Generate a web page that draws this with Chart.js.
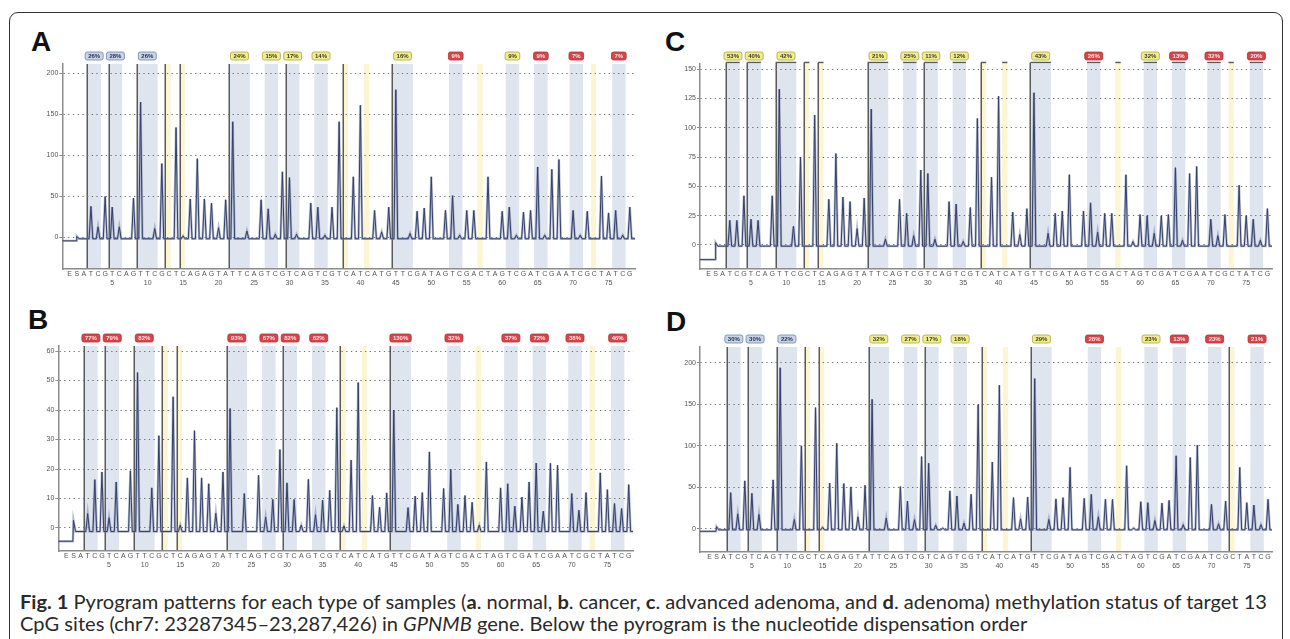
<!DOCTYPE html>
<html>
<head>
<meta charset="utf-8">
<script src="https://cdn.jsdelivr.net/npm/chart.js@4.4.0/dist/chart.umd.min.js"></script>
<style>
  html, body { margin: 0; padding: 0; background: #fff; }
  body { width: 1290px; height: 639px; position: relative; overflow: hidden; font-family: "Liberation Sans", Arial, sans-serif; }
  .frame { position: absolute; left: 9px; top: 12px; width: 1274px; height: 700px; border: 1.5px solid #333; border-radius: 9px; box-sizing: border-box; }
  canvas { position: absolute; }
  .tag { position: absolute; font-weight: bold; font-size: 28px; line-height: 1; color: #111; }
  .cap { position: absolute; left: 20px; white-space: nowrap; font-size: 18.5px; line-height: 22px; color: #2a2a2a;
         transform-origin: 0 0; font-family: Lato, "Open Sans", "Liberation Sans", sans-serif; }
</style>
</head>
<body>
<div class="frame"></div>
<div class="tag" style="left:31px;top:28px">A</div>
<div class="tag" style="left:28px;top:306px">B</div>
<div class="tag" style="left:665px;top:28px">C</div>
<div class="tag" style="left:666px;top:308px">D</div>
<canvas id="chartA" width="620" height="250" style="left:20px;top:44px"></canvas>
<canvas id="chartB" width="622" height="250" style="left:16px;top:326px"></canvas>
<canvas id="chartC" width="622" height="250" style="left:655px;top:44px"></canvas>
<canvas id="chartD" width="622" height="250" style="left:655px;top:327px"></canvas>
<div class="cap" id="cap1" style="top:591px"><b>Fig. 1</b> Pyrogram patterns for each type of samples (<b>a</b>. normal, <b>b</b>. cancer, <b>c</b>. advanced adenoma, and <b>d</b>. adenoma) methylation status of target 13</div>
<div class="cap" id="cap2" style="top:613px">CpG sites (chr7: 23287345–23,287,426) in <i>GPNMB</i> gene. Below the pyrogram is the nucleotide dispensation order</div>
<script>
// Nucleotide dispensation order (E = enzyme at -1, S = substrate at 0, then 1..78)
const dispensation = ['E','S',
  'A','T','C','G','T','C','A','G','T','T','C','G','C','T','C','A','G','A','G','T',
  'A','T','T','C','A','G','T','C','G','T','C','A','G','T','C','G','T','C','A','T',
  'C','A','T','G','T','T','C','G','A','T','A','G','T','C','G','A','C','T','A','G',
  'T','C','G','A','T','C','G','A','A','T','C','G','C','T','A','T','C','G'];

// CpG sites (first T .. last C of each variable position) and bisulfite controls
const siteStart = [2, 5, 9, 22, 27, 30, 34, 45, 53, 61, 65, 70, 76];
const siteEnd   = [3, 6, 11, 24, 28, 31, 35, 47, 54, 62, 66, 71, 77];
const controls  = [13, 15, 38, 41, 57, 73];
const markers   = [2, 5, 9, 13, 15, 22, 30, 38, 45];
const markersD  = [2, 5, 9, 13, 15, 22, 30, 38, 45, 73];

// peak heights at dispensation 1..78
const peaksA = [0,38,13,50,37,13,0,48,165,0, 11,90,0,134,2,47,96,47,42,12,
  46,141,0,8,0,46,35,4,80,73, 4,0,42,37,3,37,141,0,74,161,
  0,33,7,37,180,0,5,32,36,74, 0,33,51,3,33,33,0,74,0,32,
  37,3,31,33,86,3,83,95,0,33, 3,32,0,75,30,33,3,37];
const peaksB = [0,4.9,16.4,19,3.5,15.6,0,19.4,52.7,0, 13.6,31.3,0,44.5,1,17,33,17,15,5,
  19,40.5,0,11.7,0,17.9,3.7,9.7,26.6,15.3, 9.7,1,16.5,4.5,9.4,12.8,40.8,0.7,23,49.3,
  0,11,7,11.9,40,0,6.9,10.8,12,25.8, 0,13.4,20,8,11,8.7,1,22.4,0,13.6,
  15,7.4,10.5,15.6,22,5.7,21.9,21.3,0,11.7, 6,12,0,18.7,13,8.3,6.6,14.7];
const peaksC = [0,21,21,42,22,21,0,42,133,0, 16,75,0,111,0,39,78,41,37,14,
  40,116,0,5,0,39,27,8,64,61, 5,0,37,35,3,32,108,0,58,127,
  0,28,9,31,130,0,10,27,29,60, 0,29,36,11,27,27,0,60,3,26,
  25,10,25,26,66,4,61,67,0,22, 8,26,0,51,25,22,4,31];
const peaksD = [0,43.6,18,57.8,42.8,17.4,0,59,194,0, 11.3,100,0,146,2,55,103,54.5,50.5,14.5,
  52.5,156,0,13,0,51,33.5,11,87,79, 4.4,1,45.7,39.6,7,41.6,149.5,0,80.4,173,
  0,37.6,12,38.4,181,0,11.3,36,37.6,74, 0,36.8,41.6,14.5,35.6,35.6,0,76,1,32.7,
  31.5,10,31,34.3,88,5,86,101,0,29.5, 6,33.5,0,74,31.5,28.7,5,35.6];

// methylation labels over each CpG site and their quality flags (b = pass, y = check, r = fail)
const labelsA = ['26%','28%','26%','24%','15%','17%','14%','16%','9%','9%','9%','7%','7%'];
const kindsA  = ['b','b','b','y','y','y','y','y','r','y','r','r','r'];
const labelsB = ['77%','79%','82%','93%','67%','82%','62%','130%','32%','37%','72%','38%','46%'];
const kindsB  = ['r','r','r','r','r','r','r','r','r','r','r','r','r'];
const labelsC = ['53%','40%','42%','21%','25%','11%','12%','43%','26%','32%','13%','32%','20%'];
const kindsC  = ['y','y','y','y','y','y','y','y','r','y','r','r','r'];
const labelsD = ['30%','30%','22%','32%','27%','17%','18%','29%','28%','23%','13%','23%','21%'];
const kindsD  = ['b','b','b','y','y','y','y','y','r','y','r','r','r'];

const yTicksA = [0, 50, 100, 150, 200];
const yTicksB = [0, 10, 20, 30, 40, 50, 60];
const yTicksC = [0, 25, 50, 75, 100, 125, 150];
const yTicksD = [0, 50, 100, 150, 200];

const boxStyle = {
  b: { fill: '#c8d4e9', stroke: '#6e85ad', text: '#27324f' },
  y: { fill: '#f1ed8e', stroke: '#aba444', text: '#403b14' },
  r: { fill: '#d5464b', stroke: '#b23036', text: '#fde3e3' }
};

function trace(peaks, base, pre, bump) {
  const pts = [{ x: -3, y: pre }, { x: -0.08, y: pre }, { x: 0, y: base + bump }, { x: 0.3, y: base }];
  peaks.forEach((v, i) => {
    const p = i + 1;
    if (v > 0.5) pts.push({ x: p - 0.26, y: base }, { x: p, y: v }, { x: p + 0.26, y: base });
  });
  pts.push({ x: 80, y: base });
  return pts;
}

const pyroPlugin = {
  id: 'pyro',
  beforeDraw(chart, args, o) {
    const { ctx, chartArea: a, scales: { x } } = chart;
    ctx.save();
    ctx.beginPath();
    ctx.rect(a.left, a.top - 4, a.right - a.left, a.bottom - a.top + 4);
    ctx.clip();
    siteStart.forEach((s, i) => {
      const l = x.getPixelForValue(s - 0.5), r = x.getPixelForValue(siteEnd[i] + 0.4);
      ctx.fillStyle = '#dfe5ef';
      ctx.fillRect(l, a.top, r - l, a.bottom - a.top);
    });
    controls.forEach(c => {
      const l = x.getPixelForValue(c - 0.5), r = x.getPixelForValue(c + 0.25);
      ctx.fillStyle = '#fbf5d3';
      ctx.fillRect(l, a.top, r - l, a.bottom - a.top);
    });
    const top = o.bracket ? a.top - 1.5 : a.top;
    ctx.strokeStyle = '#5a5a5a';
    ctx.lineWidth = 1.5;
    o.markers.forEach(m => {
      const px = Math.round(x.getPixelForValue(m - 0.5)) + 0.25;
      ctx.beginPath();
      ctx.moveTo(px, top);
      ctx.lineTo(px, a.bottom);
      ctx.stroke();
    });
    ctx.restore();
  },
  afterDraw(chart, args, o) {
    const { ctx, chartArea: a, scales: { x } } = chart;
    ctx.save();
    if (o.bracket) {
      ctx.strokeStyle = '#5a5a5a';
      ctx.lineWidth = 1.5;
      siteStart.forEach((s, i) => {
        ctx.beginPath();
        ctx.moveTo(x.getPixelForValue(s - 0.5), a.top - 1.5);
        ctx.lineTo(x.getPixelForValue(siteEnd[i] + 0.4), a.top - 1.5);
        ctx.stroke();
      });
      controls.forEach(c => {
        ctx.beginPath();
        ctx.moveTo(x.getPixelForValue(c - 0.5), a.top - 1.5);
        ctx.lineTo(x.getPixelForValue(c + 0.25), a.top - 1.5);
        ctx.stroke();
      });
    }
    ctx.font = 'bold 6px "Liberation Sans", Arial, sans-serif';
    ctx.textAlign = 'center';
    ctx.textBaseline = 'middle';
    o.labels.forEach((t, i) => {
      const st = boxStyle[o.kinds[i]];
      const cx = (x.getPixelForValue(siteStart[i] - 0.5) + x.getPixelForValue(siteEnd[i] + 0.4)) / 2;
      const w = ctx.measureText(t).width + 6, h = 8, cy = a.top - 8;
      ctx.beginPath();
      ctx.roundRect(cx - w / 2, cy - h / 2, w, h, 2);
      ctx.fillStyle = st.fill;
      ctx.fill();
      ctx.lineWidth = 0.8;
      ctx.strokeStyle = st.stroke;
      ctx.stroke();
      ctx.fillStyle = st.text;
      ctx.fillText(t, cx, cy + 0.5);
    });
    ctx.restore();
  }
};

function pyrogram(id, cfg) {
  const pts = trace(cfg.peaks, cfg.base, cfg.pre, cfg.bump);
  return new Chart(document.getElementById(id), {
    type: 'line',
    data: {
      datasets: [
        { data: pts, borderColor: '#34406c', borderWidth: 1, pointRadius: 0, tension: 0 },
        { data: pts, borderColor: 'rgba(125,134,165,0.55)', borderWidth: 2.4, pointRadius: 0, tension: 0 }
      ]
    },
    options: {
      responsive: false,
      animation: false,
      layout: { padding: { top: 20, right: 5, left: 0, bottom: 0 } },
      plugins: {
        legend: { display: false },
        tooltip: { enabled: false },
        pyro: { labels: cfg.labels, kinds: cfg.kinds, markers: cfg.markers, bracket: cfg.bracket }
      },
      scales: {
        x: {
          type: 'linear',
          min: cfg.xMin,
          max: cfg.xMax,
          afterBuildTicks: s => { s.ticks = dispensation.map((_, i) => ({ value: i - 1 })); },
          afterFit: s => { s.height = 25; },
          grid: { drawOnChartArea: false, drawTicks: false },
          border: { display: true, color: '#8c8c8c', width: 1.5 },
          ticks: {
            autoSkip: false,
            maxRotation: 0,
            minRotation: 0,
            padding: 0,
            color: '#555',
            font: { size: 7, lineHeight: 1.35, family: '"Liberation Sans", Arial, sans-serif' },
            callback: v => [dispensation[v + 1], v > 0 && v % 5 === 0 ? String(v) : '']
          }
        },
        y: {
          min: cfg.yMin,
          max: cfg.yMax,
          afterBuildTicks: s => { s.ticks = cfg.yTicks.map(v => ({ value: v })); },
          afterFit: s => { s.width = cfg.yWidth; },
          grid: { color: '#6f6f6f', lineWidth: 1, tickLength: 3, tickColor: '#8c8c8c' },
          border: { display: true, color: '#8c8c8c', width: 1.5, dash: [1.3, 3.4] },
          ticks: { padding: 1, color: '#555', font: { size: 7, family: '"Liberation Sans", Arial, sans-serif' } }
        }
      }
    },
    plugins: [pyroPlugin]
  });
}

pyrogram('chartA', { peaks: peaksA, labels: labelsA, kinds: kindsA, markers: markers, yTicks: yTicksA,
  xMin: -2.04, xMax: 78.73, yMin: -38.3, yMax: 211.3, yWidth: 42.3, base: -1.5, pre: -4, bump: 3, bracket: false });
pyrogram('chartB', { peaks: peaksB, labels: labelsB, kinds: kindsB, markers: markers, yTicks: yTicksB,
  xMin: -2.13, xMax: 78.6, yMin: -7.8, yMax: 61.7, yWidth: 42.3, base: -1.2, pre: -4.5, bump: 3.8, bracket: false });
pyrogram('chartC', { peaks: peaksC, labels: labelsC, kinds: kindsC, markers: markers, yTicks: yTicksC,
  xMin: -2.21, xMax: 78.65, yMin: -20.5, yMax: 154.5, yWidth: 45, base: -1, pre: -12.5, bump: 3, bracket: true });
pyrogram('chartD', { peaks: peaksD, labels: labelsD, kinds: kindsD, markers: markersD, yTicks: yTicksD,
  xMin: -2.34, xMax: 78.56, yMin: -27.9, yMax: 219, yWidth: 45, base: -1.2, pre: -3, bump: 4, bracket: false });

// fit the condensed caption to the width of the original lines
function fitCaption() {
  const c1 = document.getElementById('cap1'), c2 = document.getElementById('cap2');
  c1.style.transform = c2.style.transform = 'none';
  const k = 1247 / c1.getBoundingClientRect().width;
  c1.style.transform = c2.style.transform = 'scaleX(' + k + ')';
}
fitCaption();
if (document.fonts) document.fonts.ready.then(fitCaption);
</script>
</body>
</html>
